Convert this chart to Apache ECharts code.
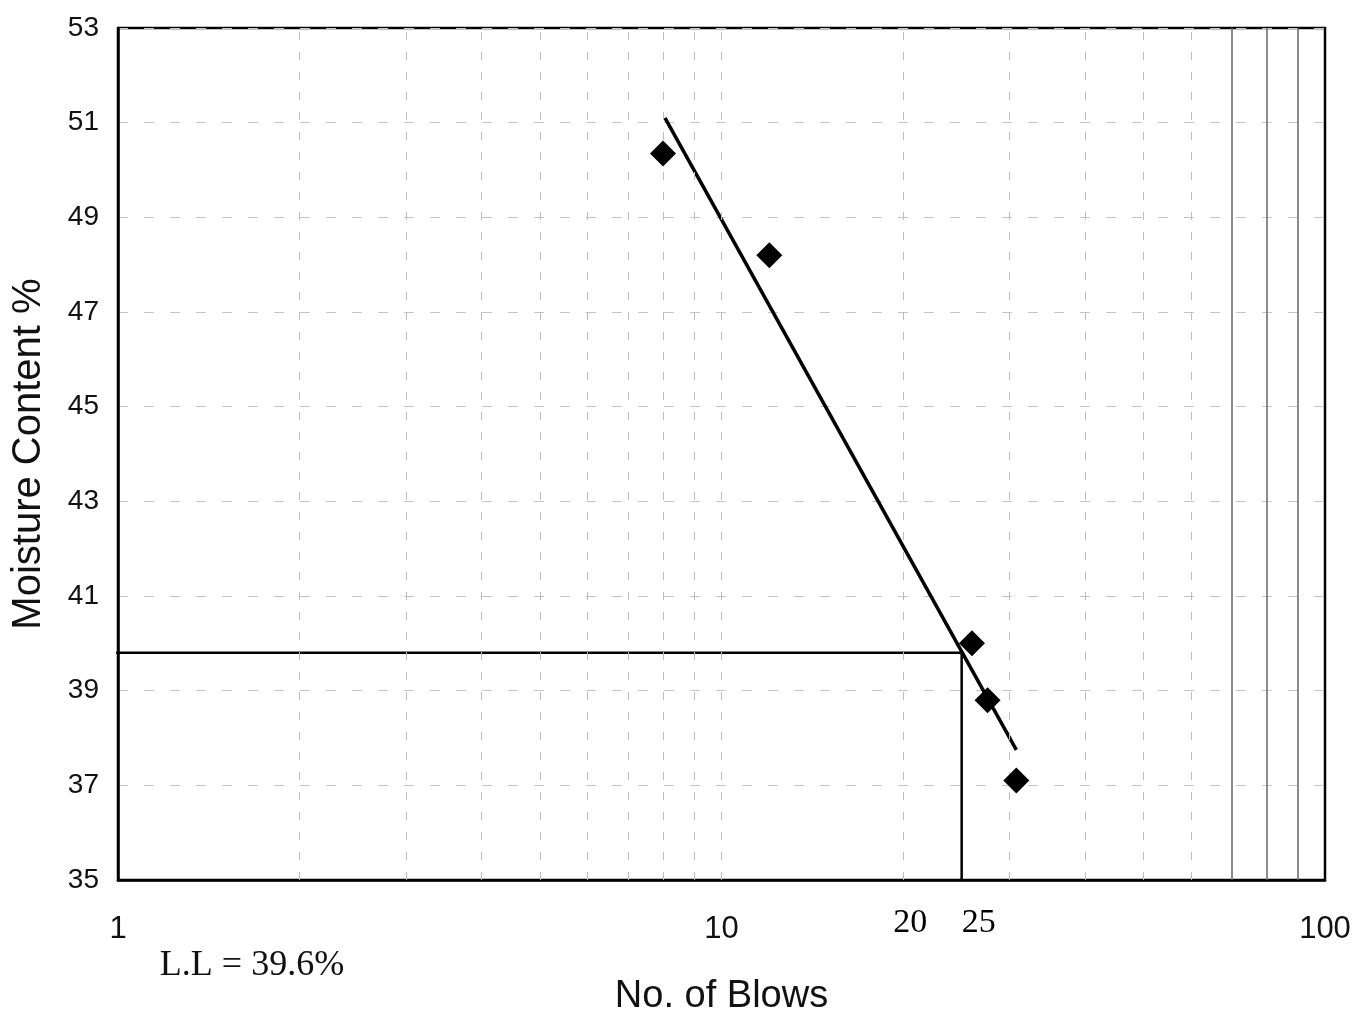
<!DOCTYPE html>
<html>
<head>
<meta charset="utf-8">
<script src="https://cdn.jsdelivr.net/npm/echarts@6/dist/echarts.min.js"></script>
<style>
  html, body { margin: 0; padding: 0; background: #fff; }
  #chart { width: 1372px; height: 1021px; }
</style>
</head>
<body>
<div id="chart"></div>
<script>
// ---- data ----
const blows = [8.0, 12.0, 26.0, 27.6, 30.8];
const moisture = [50.35, 48.2, 40.0, 38.8, 37.1];
const trendBlows = [8.06, 30.8];
const trendMoisture = [51.1, 37.75];
const llBlows = [0.944, 25, 25];
const llMoisture = [39.8, 39.8, 35];
const lightGridBlows = [2, 3, 4, 5, 6, 7, 8, 9, 10, 20, 30, 40, 50, 60];
const darkGridBlows = [70, 80, 90];
const extraTickLabels = ['20', '25'];
const extraTickValues = [20, 25];
const yTicks = [35, 37, 39, 41, 43, 45, 47, 49, 51, 53];
const llText = 'L.L = 39.6%';

const SANS = '"Liberation Sans", Arial, sans-serif';
const SERIF = '"Liberation Serif", "Times New Roman", serif';

const chart = echarts.init(document.getElementById('chart'), null, { renderer: 'canvas' });

const zip = (a, b) => a.map((v, i) => [v, b[i]]);

const option = {
  backgroundColor: '#fff',
  animation: false,
  grid: {
    left: 118, right: 47, top: 28, bottom: 140,
    show: true, borderColor: '#000', borderWidth: 2.5, backgroundColor: 'transparent'
  },
  xAxis: {
    type: 'log',
    logBase: 10,
    min: 1,
    max: 100,
    name: 'No. of Blows',
    nameLocation: 'middle',
    nameGap: 117,
    nameTextStyle: { fontFamily: SANS, fontSize: 38, color: '#111', align: 'center', verticalAlign: 'middle' },
    axisLine: { show: true, lineStyle: { color: '#000', width: 2.5 } },
    axisTick: { show: false },
    splitLine: { show: false },
    axisLabel: {
      margin: 34,
      fontFamily: SANS, fontSize: 31, color: '#111',
      showMinLabel: true, showMaxLabel: true
    }
  },
  yAxis: {
    type: 'value',
    min: 35,
    max: 53,
    interval: 2,
    name: 'Moisture Content %',
    nameLocation: 'middle',
    nameGap: 89,
    nameRotate: 90,
    nameTextStyle: { fontFamily: SANS, fontSize: 40, color: '#111', align: 'center', verticalAlign: 'middle' },
    axisLine: { show: true, lineStyle: { color: '#000', width: 2.5 } },
    axisTick: { show: false },
    axisLabel: {
      margin: 19,
      fontFamily: SANS, fontSize: 28, color: '#111',
      formatter: v => (yTicks.indexOf(v) >= 0 ? String(v) : '')
    },
    splitLine: { show: true, lineStyle: { color: '#c4c4c4', width: 1, type: [10, 16] } }
  },
  series: [
    {
      name: 'grid',
      type: 'line',
      data: [],
      silent: true,
      markLine: {
        silent: true,
        symbol: ['none', 'none'],
        label: { show: false },
        animation: false,
        data: lightGridBlows.map(v => ({ xAxis: v, lineStyle: { color: '#bdbdbd', width: 1, type: [8, 12] } }))
          .concat(darkGridBlows.map(v => ({ xAxis: v, lineStyle: { color: '#666', width: 1.5, type: 'solid' } })))
      }
    },
    {
      name: 'LL',
      type: 'line',
      data: zip(llBlows, llMoisture),
      showSymbol: false,
      symbol: 'none',
      clip: false,
      lineStyle: { color: '#000', width: 2.5 },
      z: 3
    },
    {
      name: 'Trend',
      type: 'line',
      data: zip(trendBlows, trendMoisture),
      showSymbol: false,
      symbol: 'none',
      lineStyle: { color: '#000', width: 3.5 },
      z: 4
    },
    {
      name: 'Points',
      type: 'scatter',
      data: zip(blows, moisture),
      symbol: 'diamond',
      symbolSize: 26,
      itemStyle: { color: '#000', opacity: 1 },
      z: 5
    },
    {
      name: 'ExtraTicks',
      type: 'scatter',
      clip: false,
      symbolSize: 0,
      silent: true,
      itemStyle: { opacity: 1, color: '#000' },
      data: extraTickValues.map((v, i) => ({
        value: [v, 35],
        label: {
          show: true,
          formatter: extraTickLabels[i],
          position: 'inside',
          offset: [i === 0 ? 7 : 17, 43],
          fontFamily: SERIF, fontSize: 34, color: '#000', opacity: 1
        }
      }))
    }
  ],
  graphic: [
    {
      type: 'text',
      x: 252, y: 966,
      style: {
        text: llText,
        font: '36px ' + SERIF,
        fill: '#111',
        textAlign: 'center',
        textVerticalAlign: 'middle'
      }
    }
  ]
};

chart.setOption(option);
</script>
</body>
</html>
